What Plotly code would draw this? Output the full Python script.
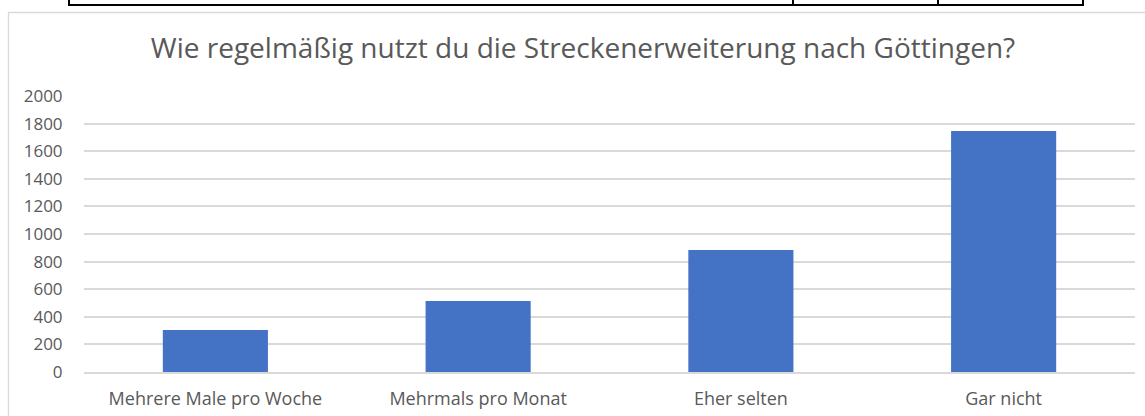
import plotly.graph_objects as go

categories = ["Mehrere Male pro Woche", "Mehrmals pro Monat", "Eher selten", "Gar nicht"]
values = [304, 514, 884, 1746]
y_ticks = [0, 200, 400, 600, 800, 1000, 1200, 1400, 1600, 1800, 2000]
title_text = "Wie regelmäßig nutzt du die Streckenerweiterung nach Göttingen?"

W, H = 1145, 416
L, R, T, B = 84, 10, 96, 44
PW, PH = W - L - R, H - T - B

def px(x):
    return (x - L) / PW

def py(y):
    return (H - B - y) / PH

FONT = "Open Sans"
GRAY = "#595959"

fig = go.Figure(go.Bar(x=categories, y=values, marker=dict(color="#4472C4", line=dict(width=0)), width=0.4))

shapes = []
# chart area border
shapes.append(dict(type="rect", xref="paper", yref="paper", x0=px(8.5), x1=px(1160), y0=py(12.5), y1=py(430),
                   line=dict(color="#d9d9d9", width=1.3), fillcolor="rgba(0,0,0,0)", layer="below"))
# table remnants at the top
shapes.append(dict(type="line", xref="paper", yref="paper", x0=px(68), x1=px(1084), y0=py(5), y1=py(5),
                   line=dict(color="#000000", width=2)))
for xv in [69, 793, 938, 1083]:
    shapes.append(dict(type="line", xref="paper", yref="paper", x0=px(xv), x1=px(xv), y0=py(-2), y1=py(5),
                       line=dict(color="#000000", width=2)))

fig.update_layout(
    width=W, height=H,
    margin=dict(l=L, r=R, t=T, b=B, autoexpand=False),
    paper_bgcolor="white", plot_bgcolor="white",
    title=dict(text=title_text, x=px(583), xanchor="center", y=1 - 48 / H, yanchor="middle",
               xref="paper", font=dict(family=FONT, size=28, color=GRAY)),
    font=dict(family=FONT, color=GRAY),
    showlegend=False,
    shapes=shapes,
    xaxis=dict(showgrid=False, showline=True, linecolor="#d9d9d9", linewidth=1.5, automargin=False,
               tickfont=dict(family=FONT, size=18, color=GRAY),
               ticks="outside", ticklen=10, tickcolor="rgba(0,0,0,0)"),
    yaxis=dict(range=[0, 2000], tickvals=y_ticks, showgrid=True, gridcolor="#d9d9d9", gridwidth=1.5,
               zeroline=False, showline=False, automargin=False,
               tickfont=dict(family=FONT, size=17, color=GRAY),
               ticks="outside", ticklen=17, tickcolor="rgba(0,0,0,0)"),
)

fig.write_html("out.html", config={"displayModeBar": False},
               post_script="document.body.style.margin='0px';document.body.style.overflow='hidden';")
